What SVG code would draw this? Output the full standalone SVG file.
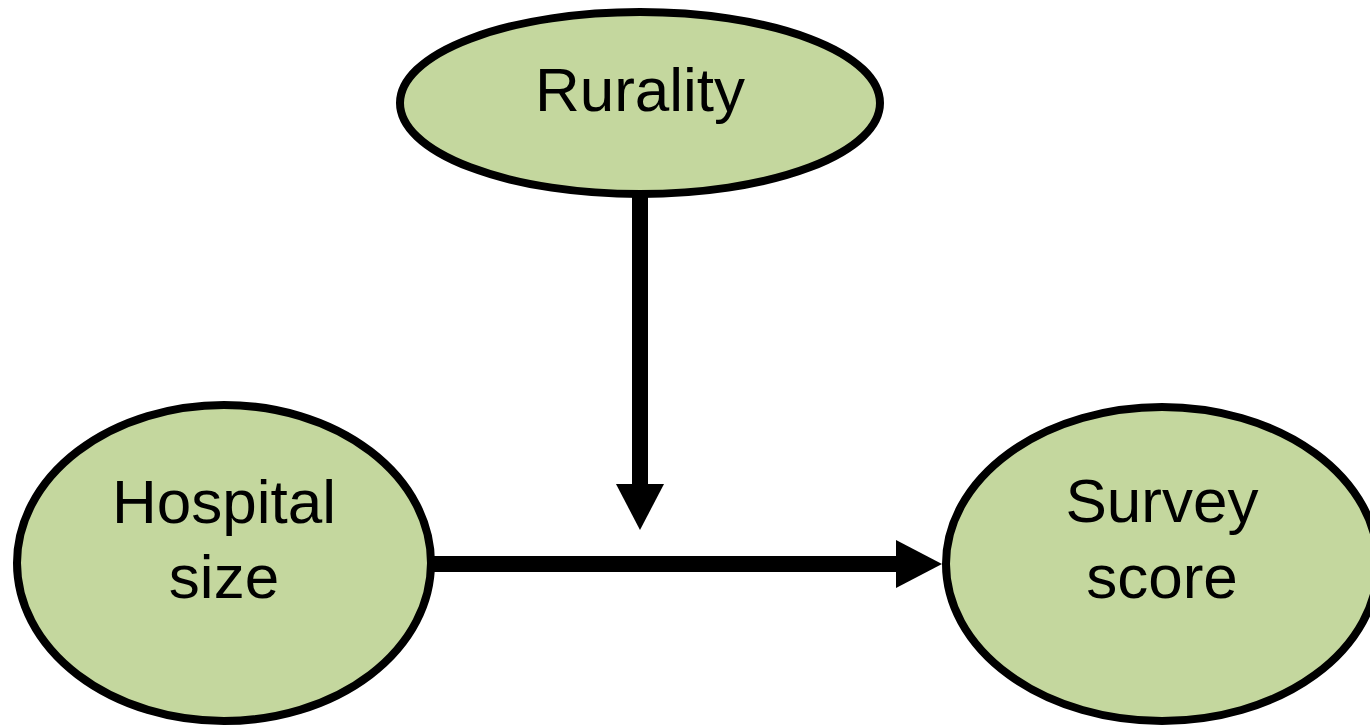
<svg xmlns="http://www.w3.org/2000/svg" width="1370" height="725" viewBox="0 0 1370 725">
<style>
.node ellipse{fill:#c4d79e;stroke:#000;stroke-width:8}
.node text{font-family:"Liberation Sans",Arial,sans-serif;font-size:62px;fill:#000;text-anchor:middle}
.edge{stroke:#000;stroke-width:16;fill:none}
</style>
<defs>
<marker id="ah" markerUnits="userSpaceOnUse" markerWidth="47" markerHeight="48" refX="0" refY="24" orient="auto" viewBox="0 0 47 48">
<path d="M0,0 L46,24 L0,48 z" fill="#000"/>
</marker>
</defs>
<rect width="1370" height="725" fill="#fff"/>
<g id="connectors">
<line class="edge" x1="640" y1="196" x2="640" y2="484" marker-end="url(#ah)"/>
<line class="edge" x1="434" y1="564" x2="896" y2="564" marker-end="url(#ah)"/>
</g>
<g id="rurality" class="node">
<ellipse cx="640" cy="103" rx="240" ry="91"/>
<text x="640" y="111">Rurality</text>
</g>
<g id="hospital-size" class="node">
<ellipse cx="224" cy="563" rx="207" ry="158"/>
<text x="224" y="523">Hospital</text>
<text x="224" y="598">size</text>
</g>
<g id="survey-score" class="node">
<ellipse cx="1162" cy="564" rx="216" ry="157"/>
<text x="1162" y="522">Survey</text>
<text x="1162" y="598">score</text>
</g>
</svg>
